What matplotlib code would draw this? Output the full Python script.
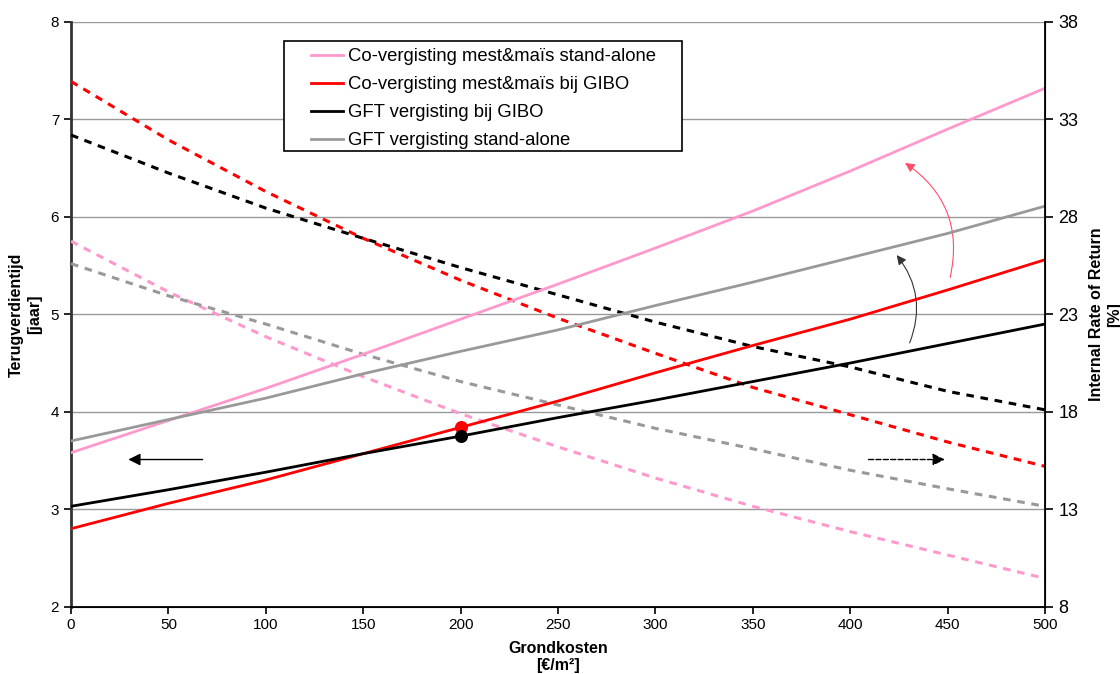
import matplotlib.pyplot as plt
from matplotlib.patches import Rectangle
import numpy as np

plt.rcParams['font.family'] = ['Liberation Sans', 'DejaVu Sans']

# grondkosten [EUR/m2]
kosten = [0, 50, 100, 150, 200, 250, 300, 350, 400, 450, 500]

# terugverdientijd [jaar] (linker as, doorgetrokken lijnen)
tvt_covg_sa = [3.58, 3.91, 4.24, 4.59, 4.95, 5.31, 5.68, 6.06, 6.47, 6.90, 7.32]
tvt_covg_gibo = [2.80, 3.06, 3.30, 3.57, 3.84, 4.11, 4.40, 4.68, 4.95, 5.25, 5.56]
tvt_gft_gibo = [3.03, 3.20, 3.38, 3.57, 3.75, 3.94, 4.12, 4.31, 4.50, 4.70, 4.90]
tvt_gft_sa = [3.70, 3.92, 4.14, 4.39, 4.62, 4.84, 5.09, 5.33, 5.58, 5.83, 6.11]

# IRR [%] (rechter as, gestreepte lijnen)
irr_covg_sa = [26.75, 24.15, 21.85, 19.8, 17.9, 16.2, 14.6, 13.15, 11.85, 10.65, 9.45]
irr_covg_gibo = [34.95, 31.95, 29.3, 26.9, 24.75, 22.8, 21.0, 19.25, 17.85, 16.45, 15.2]
irr_gft_gibo = [32.2, 30.25, 28.45, 26.9, 25.4, 24.0, 22.6, 21.35, 20.3, 19.05, 18.1]
irr_gft_sa = [25.6, 23.95, 22.5, 20.95, 19.55, 18.35, 17.15, 16.1, 15.0, 14.05, 13.15]

labels = ['Co-vergisting mest&maïs stand-alone', 'Co-vergisting mest&maïs bij GIBO',
          'GFT vergisting bij GIBO', 'GFT vergisting stand-alone']
kleuren = ['#FF99CC', '#FF0000', '#000000', '#999999']

# referentiepunt bij 200 EUR/m2
ref_x = [200, 200]
ref_y = [3.84, 3.75]

fig = plt.figure(figsize=(11.2, 6.74), dpi=100)
ax = fig.add_axes([0.0634, 0.0999, 0.8696, 0.8675])
ax2 = ax.twinx()

tvt = [tvt_covg_sa, tvt_covg_gibo, tvt_gft_gibo, tvt_gft_sa]
irr = [irr_covg_sa, irr_covg_gibo, irr_gft_gibo, irr_gft_sa]

for y, kl in zip(irr, kleuren):
    ax2.plot(kosten, y, color=kl, lw=2.2, linestyle=(0, (2.5, 2.2)))

handles = []
for y, kl, lb in zip(tvt, kleuren, labels):
    h, = ax2.plot([], [], color=kl, lw=2, label=lb)
    handles.append(h)

# doorgetrokken lijnen op ax2 tekenen (omrekenen linker -> rechter as) zodat ze boven de stippellijnen liggen
def links_naar_rechts(v):
    return 8 + 5 * (np.array(v) - 2)

for y, kl in zip(tvt, kleuren):
    ax2.plot(kosten, links_naar_rechts(y), color=kl, lw=2)

ax2.scatter(ref_x[0], links_naar_rechts(ref_y[0]), s=70, color='#FF0000', zorder=5)
ax2.scatter(ref_x[1], links_naar_rechts(ref_y[1]), s=70, color='#000000', zorder=5)

ax.set_xlim(0, 500)
ax.set_ylim(2, 8)
ax2.set_ylim(8, 38)
ax.set_xticks(range(0, 501, 50))
ax.set_yticks(range(2, 9))
ax2.set_yticks(range(8, 39, 5))
ax.grid(axis='y', color='#999999', lw=1)
ax.set_axisbelow(True)

for a in (ax, ax2):
    a.spines['top'].set_visible(False)
    a.tick_params(labelsize=11, direction='out', length=5, width=1.2)
ax2.tick_params(labelsize=13, length=6)
ax.spines['left'].set_linewidth(2)
ax.spines['left'].set_color('#333333')
ax2.spines['left'].set_visible(False)
ax2.spines['right'].set_linewidth(1.3)
ax.spines['bottom'].set_linewidth(1.3)

ax.set_xlabel('Grondkosten\n[€/m²]', fontsize=11.5, fontweight='bold', labelpad=6, linespacing=1.2)
ax.set_ylabel('Terugverdientijd\n[jaar]', fontsize=11.5, fontweight='bold', labelpad=6, linespacing=1.3)
ax2.set_ylabel('Internal Rate of Return\n[%]', fontsize=11.5, fontweight='bold', labelpad=8,
               rotation=90, linespacing=1.2)

# pijlen
ax.annotate('', xy=(28, 3.51), xytext=(69, 3.51),
            arrowprops=dict(arrowstyle='-|>', color='black', lw=1, mutation_scale=18))
ax.annotate('', xy=(450, 3.51), xytext=(408, 3.51),
            arrowprops=dict(arrowstyle='-|>', color='black', lw=1, linestyle='--', mutation_scale=18))
ax.annotate('', xy=(427, 6.57), xytext=(451, 5.35),
            arrowprops=dict(arrowstyle='-|>', color='#FF4D6A', lw=0.8, mutation_scale=14,
                            connectionstyle='arc3,rad=0.35'))
ax.annotate('', xy=(423, 5.63), xytext=(430, 4.68),
            arrowprops=dict(arrowstyle='-|>', color='#333333', lw=0.8, mutation_scale=14,
                            connectionstyle='arc3,rad=0.3'))

# legenda zonder eigen kader, kader apart getekend
leg = ax2.legend(handles=handles, loc='upper left', bbox_to_anchor=(0.2692, 0.9419),
                 bbox_transform=fig.transFigure, fontsize=13.3, frameon=False,
                 handlelength=1.75, borderpad=0, labelspacing=0.59, handletextpad=0.25)
kader = Rectangle((284 / 1120, 1 - 151 / 674), (682 - 284) / 1120, 110 / 674,
                  transform=fig.transFigure, facecolor='white', edgecolor='black',
                  lw=1.2, zorder=9, clip_on=False)
ax2.add_patch(kader)
leg.set_zorder(10)

plt.savefig('out.png', dpi=100)
